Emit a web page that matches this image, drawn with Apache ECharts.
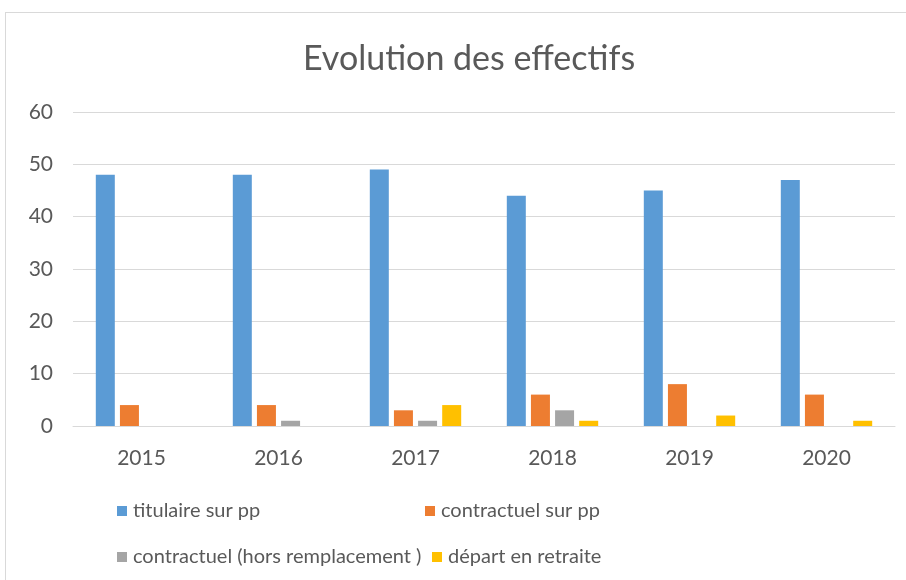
<!DOCTYPE html>
<html>
<head>
<meta charset="utf-8">
<script src="https://cdn.jsdelivr.net/npm/echarts@6/dist/echarts.min.js"></script>
<style>
  html, body { margin: 0; padding: 0; background: #fff; }
  #frame {
    position: absolute; left: 5px; top: 12px; width: 920px; height: 600px;
    border: 1px solid #d9d9d9; box-sizing: border-box;
  }
  #chart { position: absolute; left: 0; top: 0; width: 906px; height: 580px; }
</style>
</head>
<body>
<div id="frame"></div>
<div id="chart"></div>
<script>
// données
const years = ['2015', '2016', '2017', '2018', '2019', '2020']
const titulaire = [48, 48, 49, 44, 45, 47]
const contractuelPP = [4, 4, 3, 6, 8, 6]
const contractuelHors = [0, 1, 1, 3, 0, 0]
const depart = [0, 0, 4, 1, 2, 1]
const seriesNames = ['titulaire sur pp', 'contractuel sur pp', 'contractuel (hors remplacement )', 'départ en retraite']
const colors = ['#5b9bd5', '#ed7d31', '#a5a5a5', '#ffc000']

const font = 'Lato, "Open Sans", sans-serif'
const textColor = '#595959'

function legendAt (name, left, top) {
  return {
    data: [name],
    left: left,
    top: top,
    itemWidth: 10,
    itemHeight: 10,
    itemGap: 0,
    icon: 'rect',
    textStyle: { fontFamily: font, fontSize: 20, color: textColor, padding: [0, 0, 0, 1] }
  }
}

const option = {
  color: colors,
  animation: false,
  title: {
    text: 'Evolution des effectifs',
    left: 298,
    top: 37,
    textStyle: { fontFamily: font, fontSize: 34, fontWeight: 'normal', color: textColor }
  },
  legend: [
    legendAt(seriesNames[0], 112, 496),
    legendAt(seriesNames[1], 420, 496),
    legendAt(seriesNames[2], 112, 542),
    legendAt(seriesNames[3], 427, 542)
  ],
  grid: { left: 73, right: 11, top: 112, bottom: 154, containLabel: false },
  xAxis: {
    type: 'category',
    data: years,
    axisLine: { lineStyle: { color: '#d9d9d9', width: 1 } },
    axisTick: { show: false },
    axisLabel: { fontFamily: font, fontSize: 21, color: textColor, margin: 22 }
  },
  yAxis: {
    type: 'value',
    min: 0,
    max: 60,
    interval: 10,
    axisLine: { show: false },
    axisTick: { show: false },
    splitLine: { lineStyle: { color: '#d9d9d9', width: 1 } },
    axisLabel: { fontFamily: font, fontSize: 21, color: textColor, margin: 20 }
  },
  series: [
    { name: seriesNames[0], type: 'bar', data: titulaire, barWidth: 19, barGap: '27%' },
    { name: seriesNames[1], type: 'bar', data: contractuelPP, barWidth: 19, barGap: '27%' },
    { name: seriesNames[2], type: 'bar', data: contractuelHors, barWidth: 19, barGap: '27%' },
    { name: seriesNames[3], type: 'bar', data: depart, barWidth: 19, barGap: '27%' }
  ]
}

const myChart = echarts.init(document.getElementById('chart'))
myChart.setOption(option)
</script>
</body>
</html>
